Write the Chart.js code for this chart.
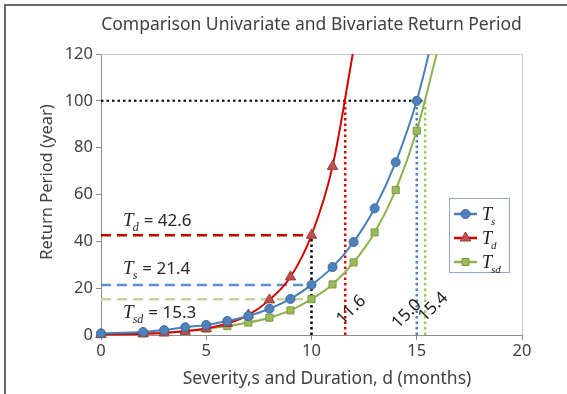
<!DOCTYPE html>
<html>
<head>
<meta charset="utf-8">
<script src="https://cdn.jsdelivr.net/npm/chart.js@4.4.1/dist/chart.umd.min.js"></script>
<style>
  html, body { margin: 0; padding: 0; background: #fff; overflow: hidden; }
  canvas { display: block; }
</style>
</head>
<body>
<canvas id="c" width="567" height="394"></canvas>
<script>
// Severity / duration (months) at which the return periods were evaluated
const sevDur = [0, 2, 3, 4, 5, 6, 7, 8, 9, 10, 11, 12, 13, 14, 15, 16];

// Return periods (years)
const tsValues  = [0.7, 1.3, 2.1, 3.3, 4.3, 6.0, 8.1, 11.2, 15.4, 21.4, 29.0, 39.7, 54.1, 73.8, 100.0, 136];
const tdValues  = [0.2, 0.5, 0.9, 1.6, 2.8, 4.9, 8.5, 15.0, 24.8, 42.6, 72.0, 122];
const tsdValues = [0.4, 0.7, 1.1, 1.7, 2.7, 3.8, 5.3, 7.4, 10.5, 15.3, 21.6, 31.0, 43.8, 61.9, 87.2, 122];

// Reference readings: order Ts, Td, Tsd
const seriesNames = ['s', 'd', 'sd'];
const crossing100 = [15.0, 11.6, 15.4];   // duration where T reaches 100 years
const valueAt10   = [21.4, 42.6, 15.3];   // T at duration 10 months
const refPeriod = 100;
const refDuration = 10;

// Axis ticks
const xTicks = [0, 5, 10, 15, 20];
const yTicks = [0, 20, 40, 60, 80, 100, 120];

const SANS = '"Noto Sans", "Open Sans", sans-serif';
const SERIF = '"Liberation Serif", "DejaVu Serif", serif';
const TEXT = '#404040';

const lineCol   = ['#4A7EBB', '#D50000', '#8DB24C'];
const markFill  = ['#4F81BD', '#C0504D', '#9BBB59'];
const markEdge  = ['#3D6A9E', '#9E3B38', '#7A9A42'];
const dashCol   = ['#5B8FD0', '#C00000', '#C3D69B'];
const dotCol    = ['#4F81BD', '#E00000', '#92D050'];
const markStyle = ['circle', 'triangle', 'rect'];
const markRad   = [4.5, 6, 5];

const toPts = (xs, ys) => ys.map((y, i) => ({ x: xs[i], y }));
const seriesData = [toPts(sevDur, tsValues), toPts(sevDur, tdValues), toPts(sevDur, tsdValues)];

const datasets = [];
seriesData.forEach((d, i) => {
  datasets.push({
    label: 'T' + seriesNames[i],
    data: d,
    borderColor: lineCol[i],
    borderWidth: 2,
    pointStyle: markStyle[i],
    pointRadius: markRad[i],
    pointBackgroundColor: markFill[i],
    pointBorderColor: markEdge[i],
    pointBorderWidth: 1,
    cubicInterpolationMode: 'monotone',
    clip: { left: 8, top: 0, right: 0, bottom: 8 },
    order: 0
  });
});

// Dashed horizontal guides at duration 10
valueAt10.forEach((v, i) => {
  datasets.push({
    data: [{ x: 0, y: v }, { x: refDuration - 0.15, y: v }],
    borderColor: dashCol[i], borderWidth: 2.5, borderDash: [10, 6],
    pointRadius: 0, order: 2
  });
});
// Dotted verticals where each curve reaches 100 years
crossing100.forEach((v, i) => {
  datasets.push({
    data: [{ x: v, y: 0 }, { x: v, y: refPeriod }],
    borderColor: dotCol[i], borderWidth: 2.5, borderDash: [2.5, 3],
    pointRadius: 0, order: 2
  });
});
// Black dotted guides
datasets.push({
  data: [{ x: 0, y: refPeriod }, { x: Math.max(...crossing100), y: refPeriod }],
  borderColor: '#000', borderWidth: 2, borderDash: [2.5, 3], pointRadius: 0, order: 2
});
datasets.push({
  data: [{ x: refDuration, y: 0 }, { x: refDuration, y: Math.max(...valueAt10) }],
  borderColor: '#000', borderWidth: 2.5, borderDash: [2.5, 3], pointRadius: 0, order: 2
});

function drawT(ctx, x, y, sub, rest, size, color) {
  ctx.fillStyle = color;
  ctx.textAlign = 'left';
  ctx.textBaseline = 'alphabetic';
  ctx.font = `italic ${size}px ${SERIF}`;
  ctx.fillText('T', x, y);
  const w = ctx.measureText('T').width;
  const sSize = Math.round(size * 0.62);
  ctx.font = `italic ${sSize}px ${SERIF}`;
  ctx.fillText(sub, x + w - 1, y + size * 0.26);
  const w2 = ctx.measureText(sub).width;
  if (rest) {
    ctx.font = `17px ${SANS}`;
    ctx.fillText(rest, x + w - 1 + w2 + 5, y);
  }
}

const decor = {
  id: 'decor',
  beforeDatasetsDraw(chart) {
    const { ctx, chartArea: a } = chart;
    ctx.save();
    ctx.strokeStyle = '#C8C8C8';
    ctx.lineWidth = 1;
    ctx.beginPath();
    ctx.moveTo(a.left, a.top + 0.5);
    ctx.lineTo(a.right + 0.5, a.top + 0.5);
    ctx.lineTo(a.right + 0.5, a.bottom);
    ctx.stroke();
    ctx.restore();
  },
  afterDraw(chart) {
    const { ctx, chartArea: a, scales: { x, y } } = chart;
    ctx.save();
    // outer frame (left and top edges)
    ctx.strokeStyle = '#6A6A6A';
    ctx.lineWidth = 2;
    ctx.beginPath();
    ctx.moveTo(5, 400);
    ctx.lineTo(5, 5);
    ctx.lineTo(600, 5);
    ctx.stroke();

    // title
    ctx.fillStyle = TEXT;
    ctx.textAlign = 'center';
    ctx.textBaseline = 'middle';
    ctx.font = `17.5px ${SANS}`;
    ctx.fillText('Comparison Univariate and Bivariate Return Period', (a.left + a.right) / 2, 25);

    // axis titles
    ctx.font = `17.5px ${SANS}`;
    ctx.fillText('Severity,s and Duration, d (months)', 327, 379);
    ctx.save();
    ctx.translate(47.5, 182);
    ctx.rotate(-Math.PI / 2);
    ctx.font = `16.5px ${SANS}`;
    ctx.fillText('Return Period (year)', 0, 0);
    ctx.restore();

    // value labels of the dashed guides
    const lx = x.getPixelForValue(1.05);
    const offs = [-11, -9, 19];
    [1, 0, 2].forEach(i => {
      drawT(ctx, lx, y.getPixelForValue(valueAt10[i]) + offs[i], seriesNames[i], '= ' + valueAt10[i].toFixed(1), 19, '#262626');
    });

    // rotated duration labels
    const rot = [
      { v: crossing100[1], dx: 6, dy: 310 },
      { v: crossing100[0], dx: -10, dy: 314 },
      { v: crossing100[2], dx: 8, dy: 307 }
    ];
    ctx.fillStyle = '#1a1a1a';
    ctx.font = `17px ${SANS}`;
    ctx.textAlign = 'center';
    ctx.textBaseline = 'middle';
    rot.forEach(r => {
      ctx.save();
      ctx.translate(x.getPixelForValue(r.v) + r.dx, r.dy);
      ctx.rotate(-Math.PI / 4);
      ctx.fillText(r.v.toFixed(1), 0, 0);
      ctx.restore();
    });

    // legend
    const bx = 449.5, by = 198.5, bw = 60, bh = 74;
    ctx.fillStyle = '#fff';
    ctx.fillRect(bx, by, bw, bh);
    ctx.strokeStyle = '#8EA9D4';
    ctx.lineWidth = 1;
    ctx.strokeRect(bx, by, bw, bh);
    const rows = [214, 238, 262];
    rows.forEach((ry, i) => {
      ctx.strokeStyle = lineCol[i];
      ctx.lineWidth = 2.5;
      ctx.beginPath();
      ctx.moveTo(454, ry);
      ctx.lineTo(477, ry);
      ctx.stroke();
      ctx.fillStyle = markFill[i];
      ctx.strokeStyle = markEdge[i];
      ctx.lineWidth = 1;
      ctx.beginPath();
      if (i === 0) ctx.arc(465.5, ry, 4.5, 0, Math.PI * 2);
      else if (i === 1) { ctx.moveTo(465.5, ry - 6); ctx.lineTo(470.7, ry + 3); ctx.lineTo(460.3, ry + 3); ctx.closePath(); }
      else ctx.rect(462, ry - 3.5, 7, 7);
      ctx.fill();
      ctx.stroke();
      drawT(ctx, 482, ry + 6, seriesNames[i], '', 18, '#1a1a1a');
    });
    ctx.restore();
  }
};

new Chart(document.getElementById('c'), {
  type: 'line',
  data: { datasets },
  options: {
    responsive: false,
    animation: false,
    events: [],
    layout: { padding: { left: 0, top: 54, right: 45, bottom: 0 } },
    plugins: { legend: { display: false }, title: { display: false }, tooltip: { enabled: false } },
    scales: {
      x: {
        type: 'linear', min: 0, max: 20,
        afterBuildTicks: s => { s.ticks = xTicks.map(v => ({ value: v })); },
        ticks: { color: TEXT, font: { family: SANS, size: 16.5 }, padding: 1, maxRotation: 0 },
        grid: { drawOnChartArea: false, drawTicks: true, tickLength: 5, color: '#8C8C8C' },
        border: { color: '#8C8C8C', width: 1 },
        afterFit: s => { s.height = 59; }
      },
      y: {
        type: 'linear', min: 0, max: 120,
        afterBuildTicks: s => { s.ticks = yTicks.map(v => ({ value: v })); },
        ticks: { color: TEXT, font: { family: SANS, size: 16.5 }, padding: 3 },
        grid: { drawOnChartArea: false, drawTicks: true, tickLength: 5, color: '#8C8C8C' },
        border: { color: '#8C8C8C', width: 1 },
        afterFit: s => { s.width = 101; }
      }
    }
  },
  plugins: [decor]
});
</script>
</body>
</html>
